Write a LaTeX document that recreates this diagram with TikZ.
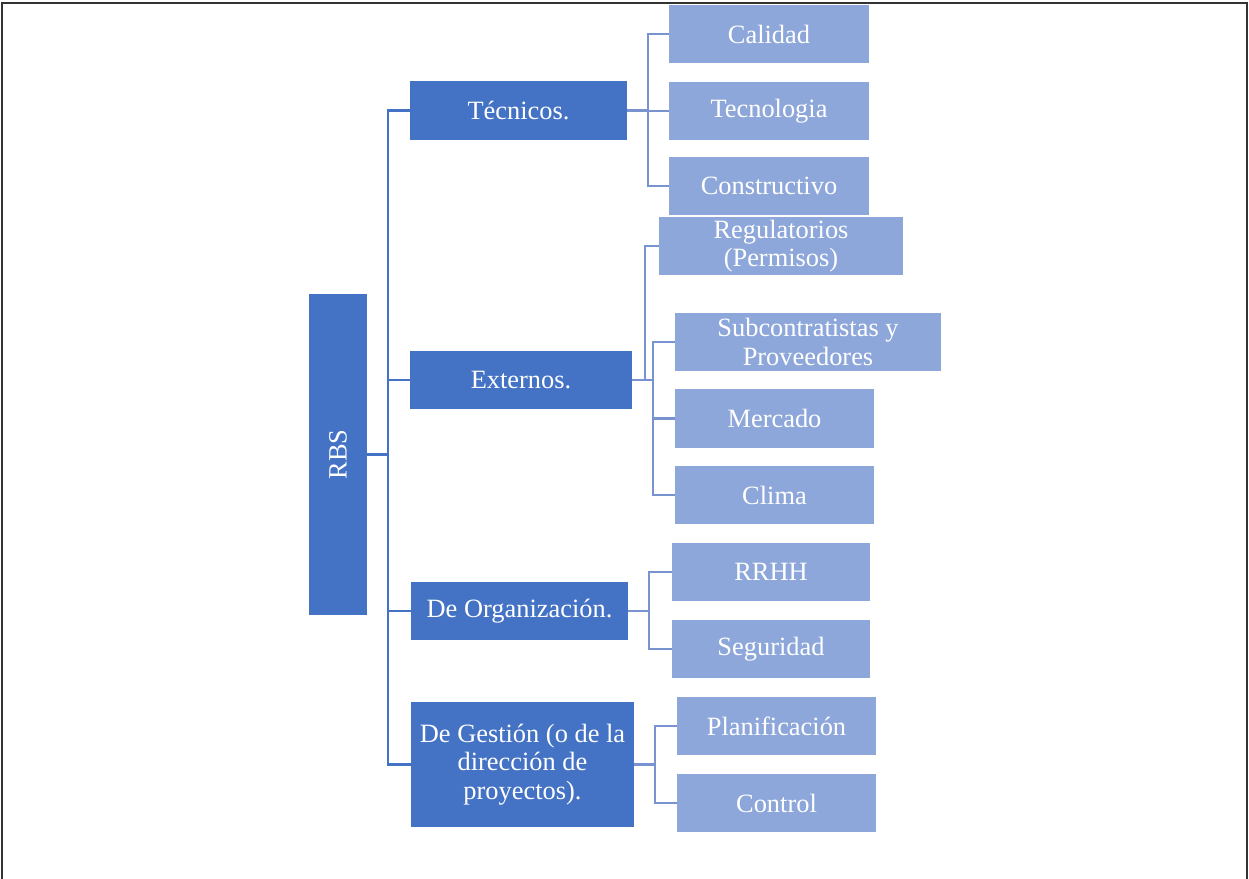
\documentclass[tikz,border=0pt]{standalone}
\usepackage{fontspec}
\setmainfont{Liberation Serif}
\definecolor{darkbox}{HTML}{4472C4}
\definecolor{lightbox}{HTML}{8EA7DA}
\definecolor{trunkline}{HTML}{4472C4}
\definecolor{branchline}{HTML}{7893CF}
\def\pxu{0.5pt}
\begin{document}
\begin{tikzpicture}[x=0.5pt,y=-0.5pt,
  every node/.style={inner sep=0pt, text=white, align=center,
    font=\fontsize{13.2}{14.2}\selectfont},
  topbox/.style={fill=darkbox},
  midbox/.style={fill=darkbox},
  leafbox/.style={fill=lightbox},
  trunk/.style={draw=trunkline, line width=1.2pt},
  branch/.style={draw=branchline, line width=1.2pt}]
\useasboundingbox (0,0) rectangle (1249,879);
% outer frame
\draw[line width=1.1pt, black!80] (2,879) -- (2,3) -- (1247,3) -- (1247,879);

% root (rotated)
\node[topbox, rotate=90, minimum width=321*\pxu, minimum height=58*\pxu] (rbs) at (338,454.5) {RBS};

% first level
\node[midbox, minimum width=217*\pxu, minimum height=59*\pxu] (tec) at (518.5,110.5) {Técnicos.};
\node[midbox, minimum width=222*\pxu, minimum height=58*\pxu] (ext) at (521,380) {Externos.};
\node[midbox, minimum width=217*\pxu, minimum height=58*\pxu] (org) at (519.5,611) {De Organización.};
\node[midbox, minimum width=223*\pxu, minimum height=125*\pxu] (ges) at (522.5,764.5) {De Gestión (o de la\\dirección de\\proyectos).};

% second level
\node[leafbox, minimum width=200*\pxu, minimum height=58*\pxu] (cal) at (769,34) {Calidad};
\node[leafbox, minimum width=200*\pxu, minimum height=58*\pxu] (tcn) at (769,111) {Tecnologia};
\node[leafbox, minimum width=200*\pxu, minimum height=58*\pxu] (con) at (769,186) {Constructivo};
\node[leafbox, minimum width=244*\pxu, minimum height=58*\pxu] (reg) at (781,246) {Regulatorios\\(Permisos)};
\node[leafbox, minimum width=266*\pxu, minimum height=58*\pxu] (sub) at (808,342) {Subcontratistas y\\Proveedores};
\node[leafbox, minimum width=199*\pxu, minimum height=59*\pxu] (mer) at (774.5,418.5) {Mercado};
\node[leafbox, minimum width=199*\pxu, minimum height=58*\pxu] (cli) at (774.5,495) {Clima};
\node[leafbox, minimum width=198*\pxu, minimum height=58*\pxu] (rrh) at (771,572) {RRHH};
\node[leafbox, minimum width=198*\pxu, minimum height=58*\pxu] (seg) at (771,649) {Seguridad};
\node[leafbox, minimum width=199*\pxu, minimum height=58*\pxu] (pla) at (776.5,726) {Planificación};
\node[leafbox, minimum width=199*\pxu, minimum height=58*\pxu] (ctl) at (776.5,803) {Control};

% elbow columns
\coordinate (t0) at (388,0);
\coordinate (t1) at (648,0);
\coordinate (t2a) at (645,0);
\coordinate (t2b) at (653,0);
\coordinate (t3) at (649,0);
\coordinate (t4) at (655,0);

% root to first level
\foreach \n in {tec,ext,org,ges}
  \draw[trunk] (rbs.south) -- (rbs.south -| t0) |- (\n.west);

% first level to second level
\foreach \n in {cal,tcn,con}
  \draw[branch] (tec.east) -- (tec.east -| t1) |- (\n.west);
\draw[branch] (ext.east) -- (ext.east -| t2a) |- (reg.west);
\foreach \n in {sub,mer,cli}
  \draw[branch] (ext.east) -- (ext.east -| t2b) |- (\n.west);
\foreach \n in {rrh,seg}
  \draw[branch] (org.east) -- (org.east -| t3) |- (\n.west);
\foreach \n in {pla,ctl}
  \draw[branch] (ges.east) -- (ges.east -| t4) |- (\n.west);
\end{tikzpicture}
\end{document}
